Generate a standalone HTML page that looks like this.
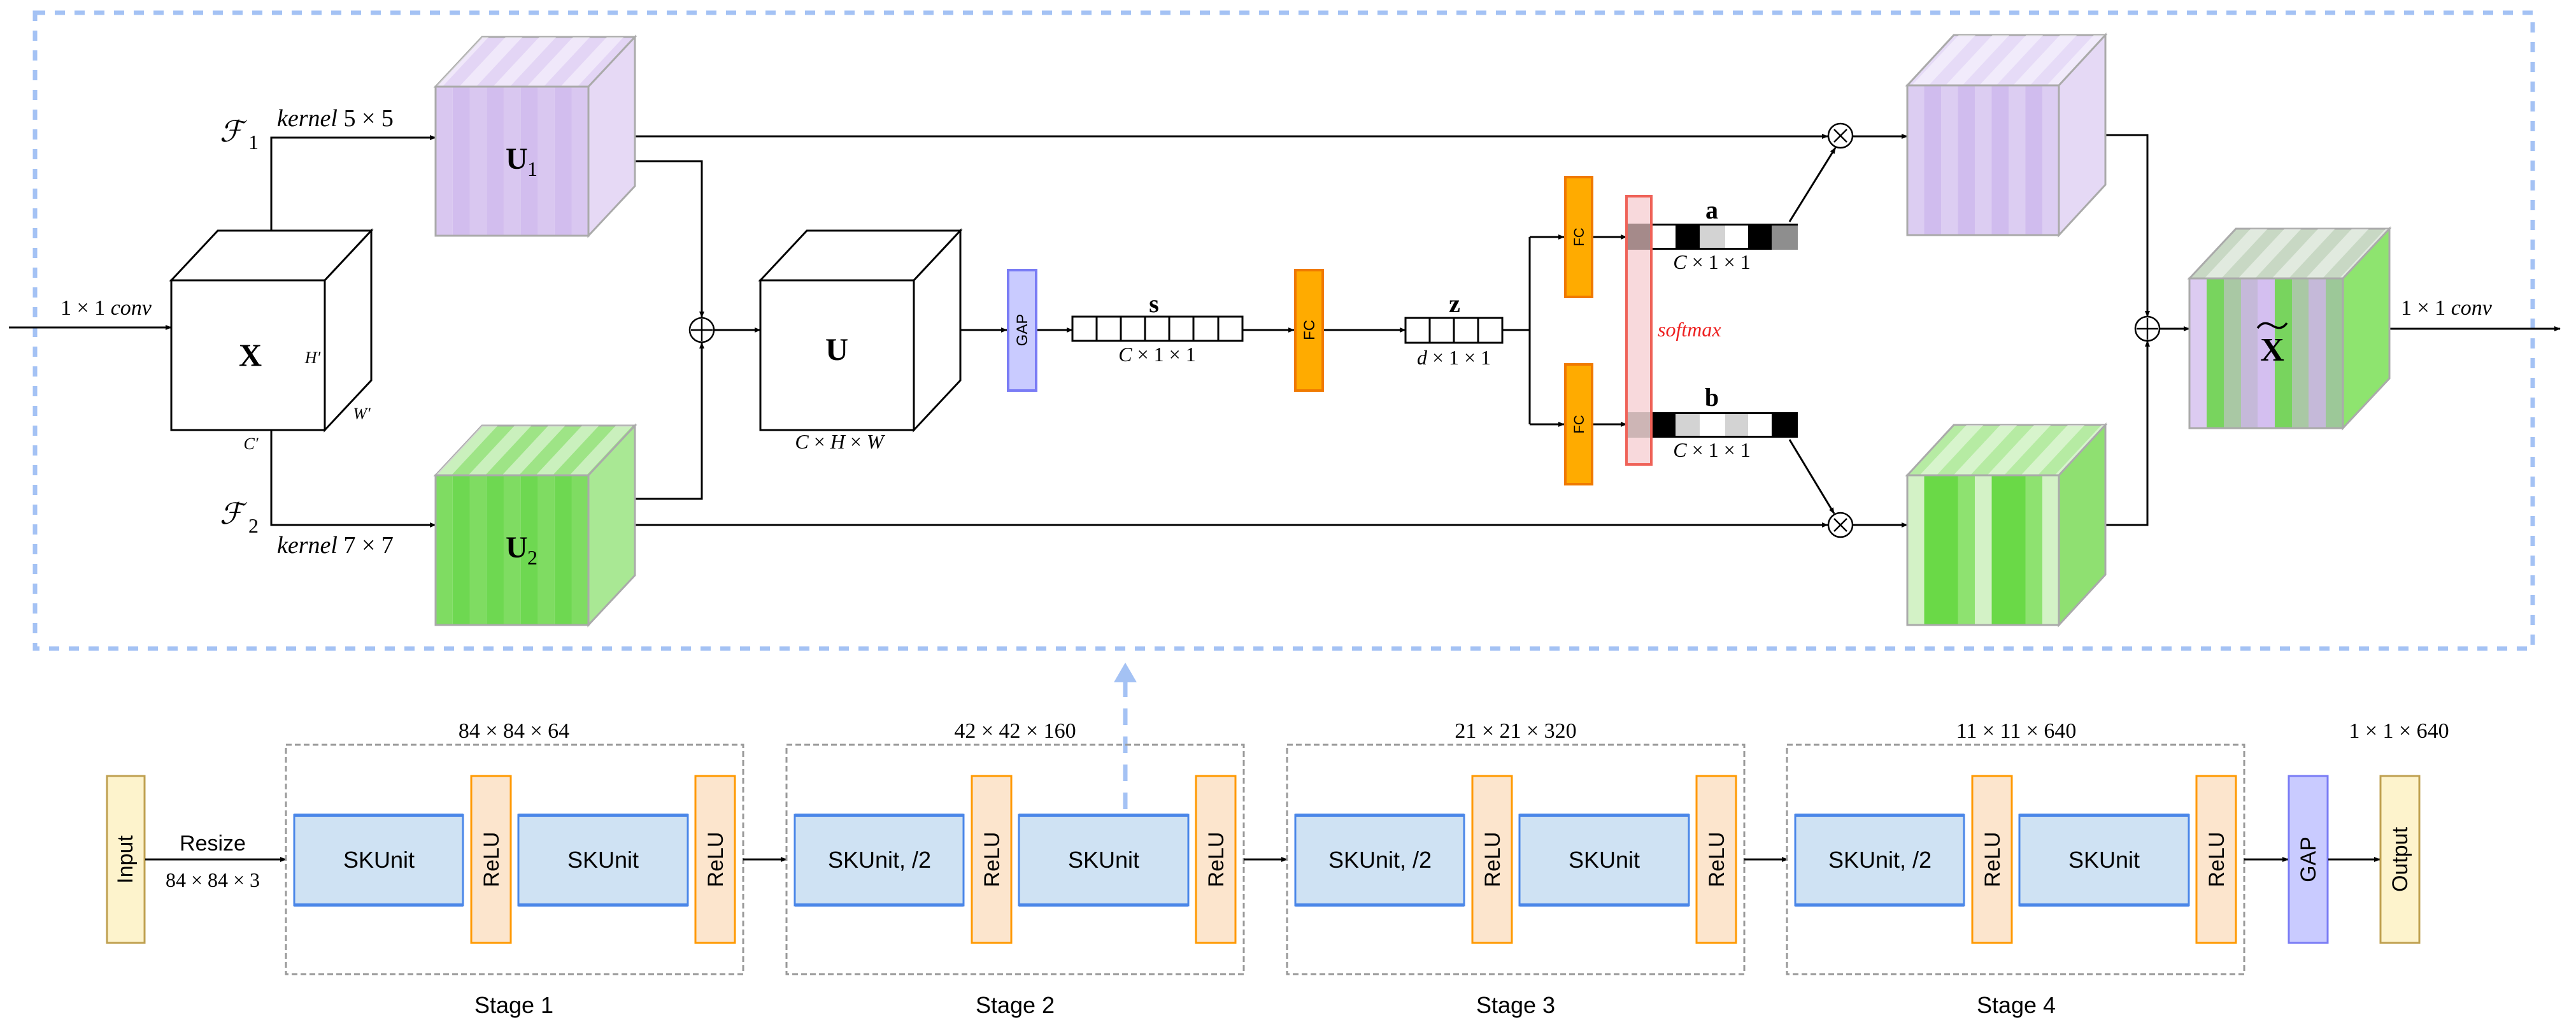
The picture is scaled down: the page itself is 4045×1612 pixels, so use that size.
<!DOCTYPE html>
<html><head><meta charset="utf-8"><style>
html,body{margin:0;padding:0;background:#fff;}
svg{display:block;}
.s{font-family:"Liberation Serif",serif;}
.a{font-family:"Liberation Sans",sans-serif;}
</style></head><body>
<svg width="4045" height="1612" viewBox="0 0 4045 1612" xmlns="http://www.w3.org/2000/svg">
<defs>
<marker id="ar" markerWidth="10" markerHeight="8" refX="9" refY="4" orient="auto" markerUnits="userSpaceOnUse" viewBox="0 0 10 8"><path d="M0,0 L10,4 L0,8 z" fill="#000"/></marker>
<pattern id="pu1" patternUnits="userSpaceOnUse" x="684" y="0" width="53.4" height="10"><rect width="26.7" height="10" fill="#d9c7f0"/><rect x="26.7" width="26.7" height="10" fill="#d2bdee"/></pattern>
<pattern id="pg1" patternUnits="userSpaceOnUse" x="684" y="0" width="53.4" height="10"><rect width="26.7" height="10" fill="#7fdc62"/><rect x="26.7" width="26.7" height="10" fill="#6ed851"/></pattern>
<pattern id="pr1" patternUnits="userSpaceOnUse" x="2995" y="0" width="53" height="10"><rect width="26.5" height="10" fill="#dccdf2"/><rect x="26.5" width="26.5" height="10" fill="#d0bcee"/></pattern>
<pattern id="pr2" patternUnits="userSpaceOnUse" x="2995" y="0" width="106" height="10"><rect width="26.5" height="10" fill="#d3f2c6"/><rect x="26.5" width="53" height="10" fill="#6ad947"/><rect x="79.5" width="26.5" height="10" fill="#8ee270"/></pattern>
<pattern id="tp" patternUnits="userSpaceOnUse" width="53" height="80" patternTransform="skewX(-43)"><rect width="26.5" height="80" fill="#fff" fill-opacity="0.45"/></pattern>
</defs>

<rect x="55" y="20" width="3922" height="998" fill="none" stroke="#a4c2f4" stroke-width="7" stroke-dasharray="16 15"/>

<g stroke="#000" stroke-width="3" fill="none">
<line x1="14" y1="514" x2="269" y2="514" marker-end="url(#ar)"/>
<polyline points="426,362 426,216 684,216" marker-end="url(#ar)"/>
<polyline points="426,675 426,824 684,824" marker-end="url(#ar)"/>
<polyline points="997,253 1102,253 1102,498" marker-end="url(#ar)"/>
<polyline points="997,783 1102,783 1102,538" marker-end="url(#ar)"/>
<line x1="1121" y1="518" x2="1194" y2="518" marker-end="url(#ar)"/>
<line x1="997" y1="214" x2="2870" y2="214" marker-end="url(#ar)"/>
<line x1="997" y1="824" x2="2870" y2="824" marker-end="url(#ar)"/>
<line x1="1508" y1="518" x2="1581" y2="518" marker-end="url(#ar)"/>
<line x1="1628" y1="518" x2="1684" y2="518" marker-end="url(#ar)"/>
<line x1="1951" y1="518" x2="2032" y2="518" marker-end="url(#ar)"/>
<line x1="2078" y1="518" x2="2207" y2="518" marker-end="url(#ar)"/>
<polyline points="2359,518 2402,518"/>
<line x1="2402" y1="372" x2="2402" y2="666"/>
<line x1="2402" y1="372" x2="2456" y2="372" marker-end="url(#ar)"/>
<line x1="2402" y1="666" x2="2456" y2="666" marker-end="url(#ar)"/>
<line x1="2501" y1="372" x2="2554" y2="372" marker-end="url(#ar)"/>
<line x1="2501" y1="666" x2="2554" y2="666" marker-end="url(#ar)"/>
<line x1="2810" y1="348" x2="2882" y2="232" marker-end="url(#ar)"/>
<line x1="2810" y1="690" x2="2880" y2="806" marker-end="url(#ar)"/>
<line x1="2909" y1="214" x2="2995" y2="214" marker-end="url(#ar)"/>
<line x1="2909" y1="824" x2="2995" y2="824" marker-end="url(#ar)"/>
<polyline points="3306,212 3372,212 3372,497" marker-end="url(#ar)"/>
<polyline points="3306,824 3372,824 3372,535" marker-end="url(#ar)"/>
<line x1="3391" y1="516" x2="3438" y2="516" marker-end="url(#ar)"/>
<line x1="3752" y1="516" x2="4020" y2="516" marker-end="url(#ar)"/>
</g>

<g stroke="#000" stroke-width="3" fill="#fff">
<polygon points="269,440 342,362 583,362 510,440"/>
<polygon points="510,440 583,362 583,597 510,675"/>
<rect x="269" y="440" width="241" height="235"/>
<polygon points="1194,440 1267,362 1508,362 1435,440"/>
<polygon points="1435,440 1508,362 1508,597 1435,675"/>
<rect x="1194" y="440" width="241" height="235"/>
</g>

<g stroke="#aaa" stroke-width="3">
<polygon points="684,136 757,58 997,58 924,136" fill="#e3d5f5"/>
<polygon points="684,136 757,58 997,58 924,136" fill="url(#tp)" stroke="none"/>
<polygon points="924,136 997,58 997,292 924,370" fill="#e6d9f5"/>
<rect x="684" y="136" width="240" height="234" fill="url(#pu1)"/>
<polygon points="684,746 757,668 997,668 924,746" fill="#9ee486"/>
<polygon points="684,746 757,668 997,668 924,746" fill="url(#tp)" stroke="none"/>
<polygon points="924,746 997,668 997,903 924,981" fill="#a9e894"/>
<rect x="684" y="746" width="240" height="235" fill="url(#pg1)"/>
<polygon points="2995,134 3068,55 3306,55 3233,134" fill="#e6dbf7"/>
<polygon points="2995,134 3068,55 3306,55 3233,134" fill="url(#tp)" stroke="none"/>
<polygon points="3233,134 3306,55 3306,290 3233,369" fill="#e5d9f5"/>
<rect x="2995" y="134" width="238" height="235" fill="url(#pr1)"/>
<polygon points="2995,746 3068,667 3306,667 3233,746" fill="#b6eba3"/>
<polygon points="2995,746 3068,667 3306,667 3233,746" fill="url(#tp)" stroke="none"/>
<polygon points="3233,746 3306,667 3306,902 3233,981" fill="#8fe071"/>
<rect x="2995" y="746" width="238" height="235" fill="url(#pr2)"/>
<polygon points="3438,437 3511,359 3752,359 3679,437" fill="#c8d8c4"/>
<polygon points="3438,437 3511,359 3752,359 3679,437" fill="url(#tp)" stroke="none"/>
<polygon points="3679,437 3752,359 3752,594 3679,672" fill="#8ee46f"/>
</g>
<g stroke="none">
<rect x="3439" y="437" width="26" height="235" fill="#dccbf1"/>
<rect x="3465" y="437" width="27" height="235" fill="#78d45e"/>
<rect x="3492" y="437" width="27" height="235" fill="#a9c8a4"/>
<rect x="3519" y="437" width="26" height="235" fill="#c5b9d9"/>
<rect x="3545" y="437" width="27" height="235" fill="#d4bff0"/>
<rect x="3572" y="437" width="27" height="235" fill="#78d45e"/>
<rect x="3599" y="437" width="26" height="235" fill="#a9c8a4"/>
<rect x="3625" y="437" width="27" height="235" fill="#c5b9d9"/>
<rect x="3652" y="437" width="27" height="235" fill="#9cc898"/>
</g>
<rect x="3438" y="437" width="241" height="235" fill="none" stroke="#aaa" stroke-width="3"/>

<g stroke="#000" stroke-width="2.5" fill="#fff">
<circle cx="1102" cy="518" r="19"/><line x1="1085" y1="518" x2="1119" y2="518"/><line x1="1102" y1="501" x2="1102" y2="535"/>
<circle cx="3372" cy="516" r="19"/><line x1="3355" y1="516" x2="3389" y2="516"/><line x1="3372" y1="499" x2="3372" y2="533"/>
<circle cx="2890" cy="213" r="19"/><line x1="2880" y1="203" x2="2900" y2="223"/><line x1="2900" y1="203" x2="2880" y2="223"/>
<circle cx="2890" cy="824" r="19"/><line x1="2880" y1="814" x2="2900" y2="834"/><line x1="2900" y1="814" x2="2880" y2="834"/>
</g>

<rect x="1583" y="424" width="44" height="189" fill="#c9cbff" stroke="#7a7cf5" stroke-width="4"/>
<text class="a" font-size="24" transform="translate(1613,518) rotate(-90)" text-anchor="middle">GAP</text>
<rect x="2034" y="424" width="43" height="189" fill="#ffab00" stroke="#f07a00" stroke-width="4"/>
<text class="a" font-size="24" transform="translate(2064,518) rotate(-90)" text-anchor="middle">FC</text>
<rect x="2458" y="278" width="42" height="188" fill="#ffab00" stroke="#f07a00" stroke-width="4"/>
<text class="a" font-size="22" transform="translate(2487,372) rotate(-90)" text-anchor="middle">FC</text>
<rect x="2458" y="572" width="42" height="188" fill="#ffab00" stroke="#f07a00" stroke-width="4"/>
<text class="a" font-size="22" transform="translate(2487,666) rotate(-90)" text-anchor="middle">FC</text>

<g stroke="#000" stroke-width="3" fill="#fff">
<rect x="1684" y="497" width="267" height="38"/>
<line x1="1722" y1="497" x2="1722" y2="535"/><line x1="1760" y1="497" x2="1760" y2="535"/><line x1="1798" y1="497" x2="1798" y2="535"/><line x1="1836" y1="497" x2="1836" y2="535"/><line x1="1874" y1="497" x2="1874" y2="535"/><line x1="1913" y1="497" x2="1913" y2="535"/>
<rect x="2207" y="499" width="152" height="39"/>
<line x1="2245" y1="499" x2="2245" y2="538"/><line x1="2283" y1="499" x2="2283" y2="538"/><line x1="2321" y1="499" x2="2321" y2="538"/>
</g>

<g stroke="none">
<rect x="2554" y="351" width="269" height="41" fill="#000"/>
<rect x="2594" y="354" width="37" height="35" fill="#fff"/>
<rect x="2669" y="354" width="40" height="35" fill="#d3d3d3"/>
<rect x="2709" y="354" width="36" height="35" fill="#fff"/>
<rect x="2782" y="354" width="41" height="38" fill="#8e8e8e"/>
<rect x="2554" y="647" width="269" height="40" fill="#000"/>
<rect x="2631" y="650" width="38" height="34" fill="#d3d3d3"/>
<rect x="2669" y="650" width="40" height="34" fill="#fff"/>
<rect x="2709" y="650" width="36" height="34" fill="#d3d3d3"/>
<rect x="2745" y="650" width="37" height="34" fill="#fff"/>
<rect x="2554" y="647" width="39" height="40" fill="#d2d2d2"/>
</g>
<rect x="2554" y="308" width="39" height="421" fill="#f3c0c4" fill-opacity="0.6" stroke="#ef6258" stroke-width="4"/>
<rect x="2554" y="351" width="39" height="41" fill="#a58a8a"/>
<rect x="2554" y="647" width="39" height="40" fill="#cdb5b5"/>
<rect x="2554" y="308" width="39" height="421" fill="none" stroke="#ef6258" stroke-width="4"/>

<g class="s" font-size="34" fill="#000">
<text x="95" y="494">1 × 1 <tspan font-style="italic">conv</tspan></text>
<text x="3770" y="494">1 × 1 <tspan font-style="italic">conv</tspan></text>
<text x="435" y="198" font-size="38"><tspan font-style="italic">kernel</tspan>  5 × 5</text>
<text x="435" y="868" font-size="38"><tspan font-style="italic">kernel</tspan>  7 × 7</text>
<text x="345" y="222" font-size="46" font-style="italic">ℱ</text><text x="390" y="234" font-size="32">1</text>
<text x="345" y="822" font-size="46" font-style="italic">ℱ</text><text x="390" y="836" font-size="32">2</text>
<text x="393" y="574" font-size="50" font-weight="bold" text-anchor="middle">X</text>
<text x="491" y="570" font-size="26" font-style="italic" text-anchor="middle">H′</text>
<text x="568" y="658" font-size="26" font-style="italic" text-anchor="middle">W′</text>
<text x="394" y="705" font-size="26" font-style="italic" text-anchor="middle">C′</text>
<text x="794" y="265" font-size="48" font-weight="bold">U</text><text x="828" y="276" font-size="32">1</text>
<text x="794" y="875" font-size="48" font-weight="bold">U</text><text x="828" y="886" font-size="32">2</text>
<text x="1314" y="565" font-size="50" font-weight="bold" text-anchor="middle">U</text>
<text x="1318" y="704" font-size="32" text-anchor="middle"><tspan font-style="italic">C</tspan> × <tspan font-style="italic">H</tspan> × <tspan font-style="italic">W</tspan></text>
<text x="1812" y="490" font-size="40" font-weight="bold" text-anchor="middle">s</text>
<text x="1817" y="567" font-size="32" text-anchor="middle"><tspan font-style="italic">C</tspan> × 1 × 1</text>
<text x="2284" y="490" font-size="40" font-weight="bold" text-anchor="middle">z</text>
<text x="2283" y="572" font-size="32" text-anchor="middle"><tspan font-style="italic">d</tspan> × 1 × 1</text>
<text x="2688" y="343" font-size="40" font-weight="bold" text-anchor="middle">a</text>
<text x="2688" y="422" font-size="32" text-anchor="middle"><tspan font-style="italic">C</tspan> × 1 × 1</text>
<text x="2688" y="637" font-size="40" font-weight="bold" text-anchor="middle">b</text>
<text x="2688" y="717" font-size="32" text-anchor="middle"><tspan font-style="italic">C</tspan> × 1 × 1</text>
<text x="2603" y="528" font-size="32" font-style="italic" fill="#ee2222">softmax</text>
<text x="3568" y="566" font-size="52" font-weight="bold" text-anchor="middle">X</text>
</g>
<path d="M3545,515 C3552,505 3560,506 3568,511 C3576,516 3584,517 3591,507" stroke="#000" stroke-width="3.5" fill="none"/>

<line x1="1767" y1="1270" x2="1767" y2="1070" stroke="#a4c2f4" stroke-width="7" stroke-dasharray="26 18"/>
<polygon points="1767,1040 1749,1071 1785,1071" fill="#a4c2f4"/>

<rect x="168" y="1218" width="59" height="262" fill="#fdf3cc" stroke="#bfa050" stroke-width="3"/>
<text class="a" font-size="34" transform="translate(208,1349) rotate(-90)" text-anchor="middle">Input</text>
<line x1="228" y1="1349" x2="449" y2="1349" stroke="#000" stroke-width="3" marker-end="url(#ar)"/>
<text class="a" x="334" y="1335" font-size="34" text-anchor="middle">Resize</text>
<text class="s" x="334" y="1392" font-size="32" text-anchor="middle">84 × 84 × 3</text>

<g id="st1">
<rect x="449" y="1169" width="718" height="360" fill="none" stroke="#999" stroke-width="3" stroke-dasharray="9 5"/>
<rect x="462" y="1279" width="265" height="142" fill="#cfe2f3" stroke="#4a86e8" stroke-width="3"/>
<rect x="462" y="1277" width="265" height="5" fill="#4a86e8"/><rect x="462" y="1418" width="265" height="5" fill="#4a86e8"/>
<rect x="740" y="1218" width="62" height="262" fill="#fce5cd" stroke="#ff9900" stroke-width="3"/>
<rect x="814" y="1279" width="266" height="142" fill="#cfe2f3" stroke="#4a86e8" stroke-width="3"/>
<rect x="814" y="1277" width="266" height="5" fill="#4a86e8"/><rect x="814" y="1418" width="266" height="5" fill="#4a86e8"/>
<rect x="1092" y="1218" width="62" height="262" fill="#fce5cd" stroke="#ff9900" stroke-width="3"/>
<text class="a" font-size="34" transform="translate(783,1349) rotate(-90)" text-anchor="middle">ReLU</text>
<text class="a" font-size="34" transform="translate(1135,1349) rotate(-90)" text-anchor="middle">ReLU</text>
<line x1="1167" y1="1349" x2="1235" y2="1349" stroke="#000" stroke-width="3" marker-end="url(#ar)"/>
</g>
<use href="#st1" x="786"/>
<use href="#st1" x="1572"/>
<g transform="translate(2357,0)">
<rect x="449" y="1169" width="718" height="360" fill="none" stroke="#999" stroke-width="3" stroke-dasharray="9 5"/>
<rect x="462" y="1279" width="265" height="142" fill="#cfe2f3" stroke="#4a86e8" stroke-width="3"/>
<rect x="462" y="1277" width="265" height="5" fill="#4a86e8"/><rect x="462" y="1418" width="265" height="5" fill="#4a86e8"/>
<rect x="740" y="1218" width="62" height="262" fill="#fce5cd" stroke="#ff9900" stroke-width="3"/>
<rect x="814" y="1279" width="266" height="142" fill="#cfe2f3" stroke="#4a86e8" stroke-width="3"/>
<rect x="814" y="1277" width="266" height="5" fill="#4a86e8"/><rect x="814" y="1418" width="266" height="5" fill="#4a86e8"/>
<rect x="1092" y="1218" width="62" height="262" fill="#fce5cd" stroke="#ff9900" stroke-width="3"/>
<text class="a" font-size="34" transform="translate(783,1349) rotate(-90)" text-anchor="middle">ReLU</text>
<text class="a" font-size="34" transform="translate(1135,1349) rotate(-90)" text-anchor="middle">ReLU</text>
<line x1="1167" y1="1349" x2="1236" y2="1349" stroke="#000" stroke-width="3" marker-end="url(#ar)"/>
</g>
<rect x="3594" y="1218" width="61" height="262" fill="#c9cbff" stroke="#7a7cf5" stroke-width="3"/>
<text class="a" font-size="34" transform="translate(3636,1349) rotate(-90)" text-anchor="middle">GAP</text>
<line x1="3656" y1="1349" x2="3737" y2="1349" stroke="#000" stroke-width="3" marker-end="url(#ar)"/>
<rect x="3738" y="1218" width="61" height="262" fill="#fdf3cc" stroke="#bfa050" stroke-width="3"/>
<text class="a" font-size="34" transform="translate(3780,1349) rotate(-90)" text-anchor="middle">Output</text>

<g class="a" font-size="36" text-anchor="middle">
<text x="595" y="1362">SKUnit</text><text x="947" y="1362">SKUnit</text>
<text x="1381" y="1362">SKUnit, /2</text><text x="1733" y="1362">SKUnit</text>
<text x="2167" y="1362">SKUnit, /2</text><text x="2519" y="1362">SKUnit</text>
<text x="2952" y="1362">SKUnit, /2</text><text x="3304" y="1362">SKUnit</text>
<text x="807" y="1590">Stage 1</text><text x="1594" y="1590">Stage 2</text>
<text x="2380" y="1590">Stage 3</text><text x="3166" y="1590">Stage 4</text>
</g>
<g class="s" font-size="34" text-anchor="middle">
<text x="807" y="1158">84 × 84 × 64</text>
<text x="1594" y="1158">42 × 42 × 160</text>
<text x="2380" y="1158">21 × 21 × 320</text>
<text x="3166" y="1158">11 × 11 × 640</text>
<text x="3767" y="1158">1 × 1 × 640</text>
</g>
</svg>
</body></html>
